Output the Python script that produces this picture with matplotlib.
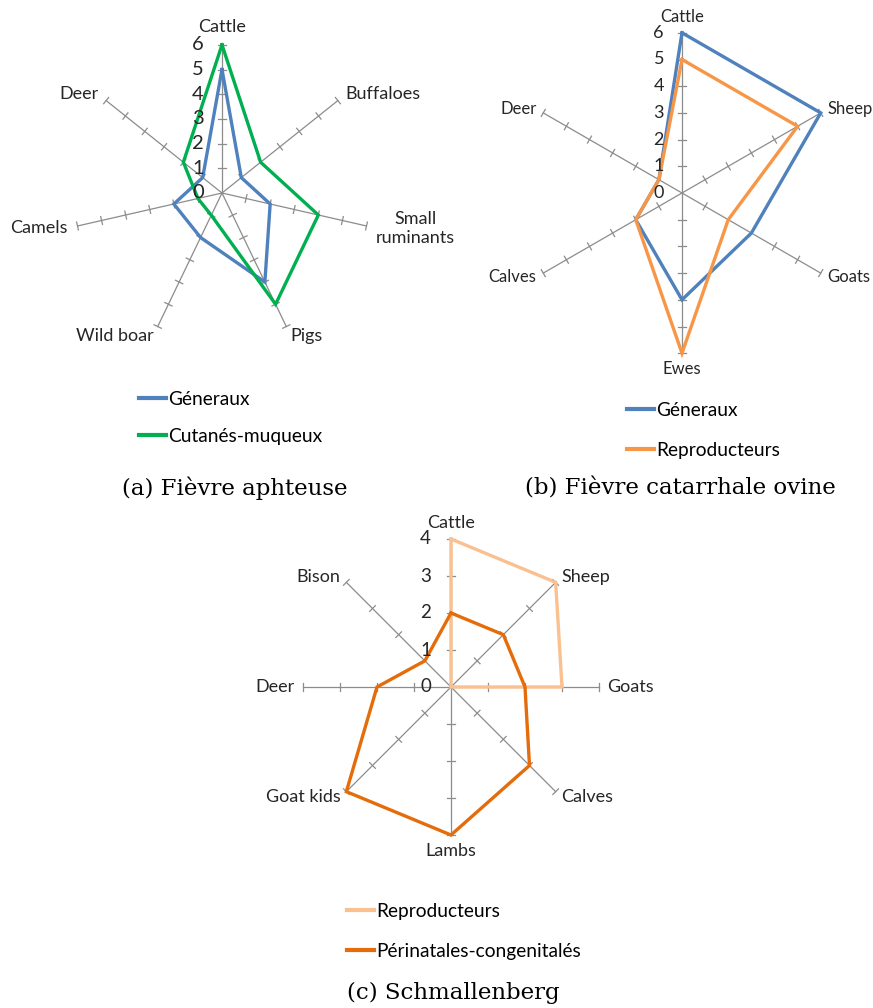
import numpy as np
import matplotlib
matplotlib.use("Agg")
import matplotlib.pyplot as plt
from matplotlib.lines import Line2D

# ---- data ----
cats_a = ["Cattle", "Buffaloes", "Small\nruminants", "Pigs", "Wild boar", "Camels", "Deer"]
generaux_a = [5, 1, 2, 4, 2, 2, 1]
cutanes_a = [6, 2, 4, 5, 1, 1, 2]

cats_b = ["Cattle", "Sheep", "Goats", "Ewes", "Calves", "Deer"]
generaux_b = [6, 6, 3, 4, 2, 1]
repro_b = [5, 5, 2, 6, 2, 1]

cats_c = ["Cattle", "Sheep", "Goats", "Calves", "Lambs", "Goat kids", "Deer", "Bison"]
repro_c = [4, 4, 3, 0, 0, 0, 0, 0]
perinat_c = [2, 2, 2, 3, 4, 4, 2, 1]

BLUE = "#4F81BD"
GREEN = "#00B050"
ORANGE = "#F79646"
LIGHT_OR = "#FAC090"
DARK_OR = "#E46C0A"
GREY = "#8C8C8C"

LABEL_FONT = "Lato"
SERIF = "DejaVu Serif"

W, H = 873, 1008
fig = plt.figure(figsize=(W / 100, H / 100), dpi=100)


def radar(cx, cy, scale, rmax, cats, series, label_fs, num_fs, label_pad, num_dx):
    hw, hh = 230, 230
    ax = fig.add_axes([(cx - hw) / W, (H - cy - hh) / H, 2 * hw / W, 2 * hh / H])
    ax.set_xlim(-hw / scale, hw / scale)
    ax.set_ylim(-hh / scale, hh / scale)
    ax.set_aspect("equal")
    ax.axis("off")

    n = len(cats)
    theta = 2 * np.pi * np.arange(n) / n
    tick = 4.0 / scale
    for i, t in enumerate(theta):
        s, c = np.sin(t), np.cos(t)
        ax.plot([0, rmax * s], [0, rmax * c], color=GREY, lw=0.9, zorder=1)
        for k in range(1, rmax + 1):
            px, py = k * s, k * c
            ax.plot([px - tick * c, px + tick * c], [py + tick * s, py - tick * s],
                    color=GREY, lw=0.9, zorder=1)
        # category label
        r = rmax + label_pad / scale
        lx, ly = r * s, r * c
        if abs(s) < 0.2:
            ha = "center"
        elif s > 0:
            ha = "left"
        else:
            ha = "right"
        if ha == "center":
            va = "bottom" if c > 0 else "top"
        else:
            va = "center"
        ax.text(lx, ly, cats[i], ha=ha, va=va, fontsize=label_fs,
                family=LABEL_FONT, color="#262626", multialignment="center")

    # radial values on top axis
    for k in range(rmax + 1):
        ax.text(-num_dx / scale, k, str(k), ha="right", va="center",
                fontsize=num_fs, family=LABEL_FONT, color="#262626", zorder=5)

    for vals, col in series:
        v = np.array(vals + vals[:1], dtype=float)
        tt = np.concatenate([theta, theta[:1]])
        ax.plot(v * np.sin(tt), v * np.cos(tt), color=col, lw=2.4,
                solid_joinstyle="miter", zorder=3)
    return ax


radar(222, 193, 24.7, 6, cats_a, [(generaux_a, BLUE), (cutanes_a, GREEN)],
      13, 14.5, 10, 18)
radar(682, 193, 26.7, 6, cats_b, [(generaux_b, BLUE), (repro_b, ORANGE)],
      12, 13, 8, 18)
radar(451, 687, 37, 4, cats_c, [(repro_c, LIGHT_OR), (perinat_c, DARK_OR)],
      13, 13.5, 8, 20)


def legend(x, y, labels, colors, spacing):
    handles = [Line2D([], [], color=c, lw=3) for c in colors]
    fig.legend(handles, labels, loc="upper left", bbox_to_anchor=(x / W, 1 - y / H),
               frameon=False, handlelength=1.4, handletextpad=0.1,
               labelspacing=spacing, borderpad=0, borderaxespad=0,
               prop={"family": LABEL_FONT, "size": 13.8})


legend(139, 391, ["Géneraux", "Cutanés-muqueux"], [BLUE, GREEN], 1.05)
legend(627, 402, ["Géneraux", "Reproducteurs"], [BLUE, ORANGE], 1.2)
legend(347, 903, ["Reproducteurs", "Périnatales-congenitalés"], [LIGHT_OR, DARK_OR], 1.2)

fig.text(235 / W, 1 - 488 / H, "(a) Fièvre aphteuse", ha="center", va="center",
         fontsize=16.5, family=SERIF)
fig.text(680 / W, 1 - 488 / H, "(b) Fièvre catarrhale ovine", ha="center", va="center",
         fontsize=16.5, family=SERIF)
fig.text(453 / W, 1 - 993 / H, "(c) Schmallenberg", ha="center", va="center",
         fontsize=16.5, family=SERIF)

fig.savefig("out.png", dpi=100, facecolor="white")
